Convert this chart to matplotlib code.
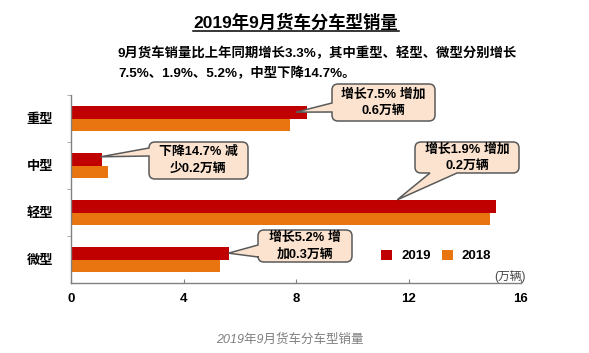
import matplotlib
matplotlib.use("Agg")
import matplotlib.pyplot as plt
from matplotlib.path import Path
from matplotlib.patches import PathPatch, Patch
from matplotlib.lines import Line2D
import numpy as np

plt.rcParams['font.family'] = ['Liberation Sans', 'Noto Sans CJK SC']

# ---- data ----
categories = ['重型', '中型', '轻型', '微型']
sales_2019 = [8.4, 1.1, 15.1, 5.6]
sales_2018 = [7.8, 1.3, 14.9, 5.3]
series_labels = ['2019', '2018']
x_ticks = [0, 4, 8, 12, 16]
title = '2019年9月货车分车型销量'
subtitle_lines = ['9月货车销量比上年同期增长3.3%，其中重型、轻型、微型分别增长',
                  '7.5%、1.9%、5.2%，中型下降14.7%。']
callout_texts = ['增长7.5% 增加\n0.6万辆', '下降14.7% 减\n少0.2万辆',
                 '增长1.9% 增加\n0.2万辆', '增长5.2% 增\n加0.3万辆']
unit_label = '(万辆)'
caption = '2019年9月货车分车型销量'

RED = '#C00000'
ORANGE = '#E8750F'
BOX_FC = '#FBE3CF'
BOX_EC = '#5A5A5A'

W, H = 589, 353
fig = plt.figure(figsize=(W / 100, H / 100), dpi=100)
fig.patch.set_facecolor('white')


def fx(px):
    return px / W


def fy(py):
    return 1 - py / H


ax = fig.add_axes([fx(71), fy(283), fx(521) - fx(71), fy(95) - fy(283)])
y = np.arange(len(categories))
bh = 0.27
ax.barh(y - bh / 2, sales_2019, height=bh, color=RED, zorder=2)
ax.barh(y + bh / 2, sales_2018, height=bh, color=ORANGE, zorder=2)
ax.set_xlim(0, 16)
ax.set_ylim(len(categories) - 0.5, -0.5)

ax.set_xticks(x_ticks)
ax.set_xticklabels([str(t) for t in x_ticks], fontsize=9.5, fontweight='bold')
ax.tick_params(axis='x', direction='in', length=3, color='#808080', pad=7)
ax.set_yticks(y)
ax.set_yticklabels(categories, fontsize=9.5, fontweight='bold')
ax.tick_params(axis='y', which='major', length=0, pad=13)
ax.set_yticks(np.arange(-0.5, len(categories) - 0.5, 1.0), minor=True)
ax.tick_params(axis='y', which='minor', length=3, color='#A0A0A0', direction='out')
for s in ['top', 'right']:
    ax.spines[s].set_visible(False)
for s in ['left', 'bottom']:
    ax.spines[s].set_color('#808080')
    ax.spines[s].set_linewidth(1.0)

# ---- legend ----
handles = [Patch(facecolor=RED, edgecolor='none'), Patch(facecolor=ORANGE, edgecolor='none')]
leg = fig.legend(handles, series_labels, loc='center left', bbox_to_anchor=(fx(381), fy(256)),
                 ncol=2, frameon=False, prop={'size': 9.5, 'weight': 'bold'},
                 handlelength=0.85, handleheight=0.85, handletextpad=0.7,
                 columnspacing=0.8, borderpad=0, borderaxespad=0)

# unit label
fig.text(fx(510), fy(277), unit_label, ha='center', va='center', fontsize=8.5, color='#444444')

# ---- title ----
fig.text(fx(296), fy(22), title, ha='center', va='center', fontsize=12.5, fontweight='bold')
fig.add_artist(Line2D([fx(193), fx(399)], [fy(30.5), fy(30.5)], color='black', lw=1.1,
                      transform=fig.transFigure))
fig.text(fx(118), fy(53), subtitle_lines[0], ha='left', va='center', fontsize=9.6, fontweight='bold')
fig.text(fx(118), fy(73), subtitle_lines[1], ha='left', va='center', fontsize=9.6, fontweight='bold')

# caption
fig.text(fx(290), fy(340), caption, ha='center', va='center', fontsize=9, color='#7F7F7F',
         style='italic')

# ---- callouts ----
fig.canvas.draw()


def data_to_px(xd, yd):
    dx, dy = ax.transData.transform((xd, yd))
    fxx, fyy = fig.transFigure.inverted().transform((dx, dy))
    return fxx * W, (1 - fyy) * H


def callout(box, edge, base, tip_px, text, r=6):
    x0, y0, x1, y1 = box
    verts = []
    codes = []

    def mv(p):
        verts.append(p); codes.append(Path.MOVETO)

    def ln(p):
        verts.append(p); codes.append(Path.LINETO)

    def cv(c, p):
        verts.extend([c, p]); codes.extend([Path.CURVE3, Path.CURVE3])

    mv((x0 + r, y0))
    ln((x1 - r, y0))
    cv((x1, y0), (x1, y0 + r))
    ln((x1, y1 - r))
    cv((x1, y1), (x1 - r, y1))
    if edge == 'bottom':
        a, b = base
        ln((b, y1)); ln(tip_px); ln((a, y1))
    ln((x0 + r, y1))
    cv((x0, y1), (x0, y1 - r))
    if edge == 'left':
        a, b = base
        ln((x0, b)); ln(tip_px); ln((x0, a))
    ln((x0, y0 + r))
    cv((x0, y0), (x0 + r, y0))
    verts.append((x0 + r, y0)); codes.append(Path.CLOSEPOLY)
    verts_f = [(fx(px), fy(py)) for px, py in verts]
    patch = PathPatch(Path(verts_f, codes), facecolor=BOX_FC, edgecolor=BOX_EC, lw=1.1,
                      transform=fig.transFigure, zorder=5)
    fig.add_artist(patch)
    fig.text(fx((x0 + x1) / 2), fy((y0 + y1) / 2), text, ha='center', va='center',
             fontsize=9.3, fontweight='bold', linespacing=1.55, zorder=6)


# 重型
tip = data_to_px(sales_2019[0] - 0.4, y[0] - bh / 2)
callout((332, 84, 435, 121), 'left', (103, 112), tip, callout_texts[0])
# 中型
tip = data_to_px(sales_2019[1] - 0.05, y[1] - bh / 2 - 0.05)
callout((149, 142, 248, 179), 'left', (148, 156), tip, callout_texts[1])
# 轻型
tip = data_to_px(11.6, y[2] - bh)
callout((415, 142, 519, 173), 'bottom', (430, 457), tip, callout_texts[2])
# 微型
tip = data_to_px(sales_2019[3], y[3] - bh / 2)
callout((258, 230, 352, 262), 'left', (245, 257), tip, callout_texts[3])

fig.savefig('out.png', dpi=100, facecolor='white')
